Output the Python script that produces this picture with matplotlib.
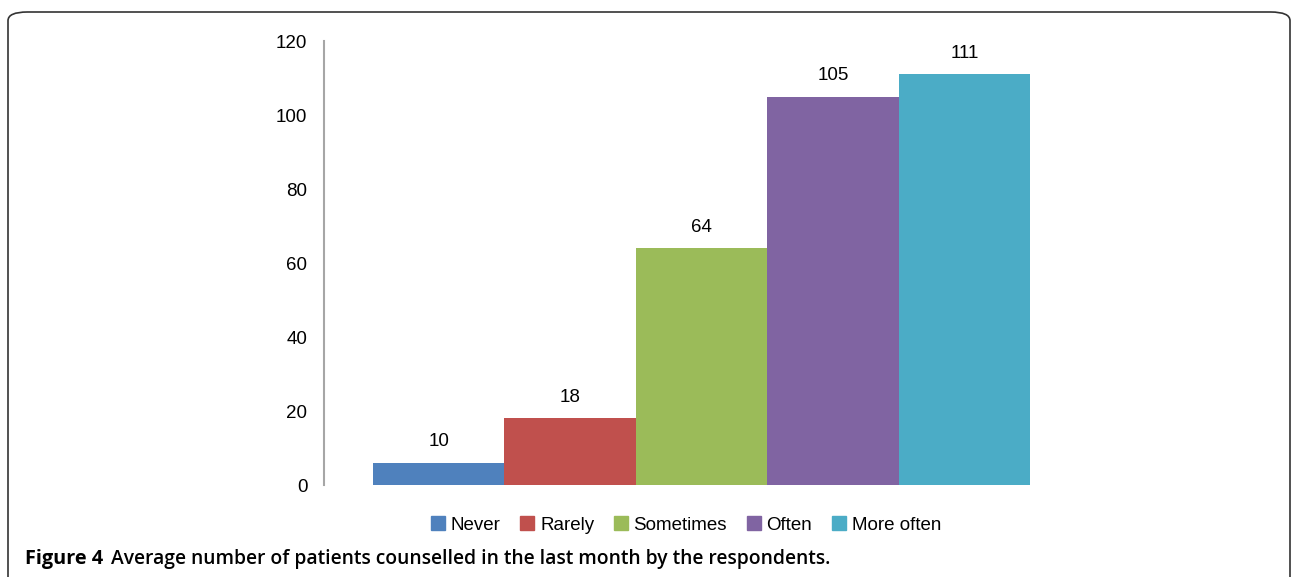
import matplotlib.pyplot as plt
from matplotlib.patches import FancyBboxPatch

# data
categories = ['Never', 'Rarely', 'Sometimes', 'Often', 'More often']
heights = [6, 18, 64, 105, 111]          # drawn bar heights
labels = ['10', '18', '64', '105', '111']  # value labels printed above bars
colors = ['#4f81bd', '#c0504d', '#9bbb59', '#8064a2', '#4bacc6']

plt.rcParams['font.family'] = ['Liberation Sans', 'DejaVu Sans']

fig = plt.figure(figsize=(12.92, 5.77), dpi=100)
ax = fig.add_axes([0.2508, 0.1594, 0.5844, 0.7695])

x = range(len(categories))
bars = ax.bar(x, heights, width=1.0, color=colors, label=categories)

for b, lab in zip(bars, labels):
    ax.annotate(lab, (b.get_x() + b.get_width() / 2, b.get_height()),
                xytext=(0, 15), textcoords='offset points',
                ha='center', va='center', fontsize=13.5, color='black')

ax.set_xlim(-0.873, 4.873)
ax.set_ylim(0, 120)
ax.set_yticks(range(0, 121, 20))
ax.set_xticks([])
ax.tick_params(axis='y', length=0, pad=12, labelsize=13.5, labelcolor='black')
for s in ['top', 'right', 'bottom']:
    ax.spines[s].set_visible(False)
ax.spines['left'].set_color('#a6a6a6')
ax.spines['left'].set_linewidth(1.5)

handles = [plt.Rectangle((0, 0), 1, 1, color=c) for c in colors]
fig.legend(handles, categories, loc='center', bbox_to_anchor=(686 / 1292, 1 - 525 / 577),
           ncol=5, frameon=False, fontsize=13.5, handlelength=0.75, handleheight=0.75,
           handletextpad=0.3, columnspacing=1.05)

# caption
fig.text(25 / 1292, 1 - 564 / 577, 'Figure 4', fontsize=14.3, fontweight='bold',
         family='Open Sans', va='baseline')
fig.text(111 / 1292, 1 - 564 / 577,
         'Average number of patients counselled in the last month by the respondents.',
         fontsize=13.9, fontweight='semibold', family='Open Sans', va='baseline')

# rounded frame, open at the bottom
frame = FancyBboxPatch((8 / 1292, -0.1), (1282 / 1292), 1.1 - 12 / 577,
                       boxstyle='round,pad=0,rounding_size=0.015',
                       transform=fig.transFigure, fill=False,
                       edgecolor='#333333', linewidth=1.2, clip_on=False)
fig.patches.append(frame)

fig.savefig('out.png', dpi=100)
